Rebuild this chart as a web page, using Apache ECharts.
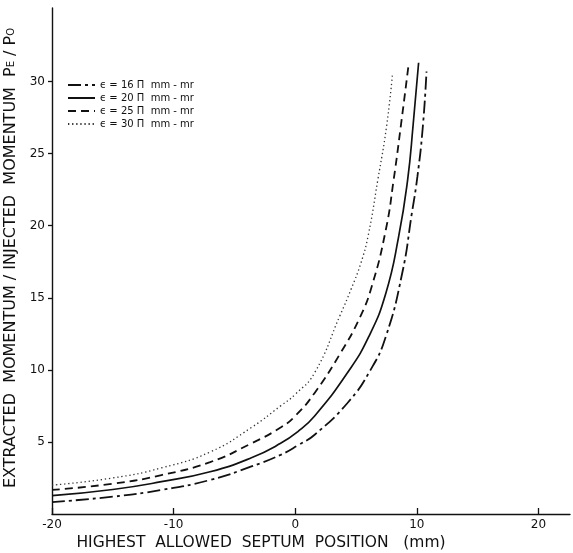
<!DOCTYPE html>
<html>
<head>
<meta charset="utf-8">
<script src="https://cdn.jsdelivr.net/npm/echarts@6/dist/echarts.min.js"></script>
<style>
html,body{margin:0;padding:0;background:#fff;}
#chart{width:573px;height:553px;}
</style>
</head>
<body>
<div id="chart"></div>
<script>
// ---- data ----
const xTicks = [-20, -10, 0, 10, 20];
const yTicks = [5, 10, 15, 20, 25, 30];
const seriesNames = [
  'ϵ = 16 Π  mm - mr',
  'ϵ = 20 Π  mm - mr',
  'ϵ = 25 Π  mm - mr',
  'ϵ = 30 Π  mm - mr'
];
const eps16 = [[-20,0.83],[-15,1.2],[-11,1.67],[-7,2.36],[-3.6,3.3],[-1.2,4.1],[0.3,4.8],[1.6,5.5],[4.3,7.7],[6.2,10.0],[7.45,12.3],[8.8,16.7],[9.6,20.9],[10.05,23.4],[10.5,26.9],[10.8,30.7]];
const eps20 = [[-20,1.27],[-15,1.7],[-11,2.24],[-7,2.93],[-3.6,3.9],[-1.2,4.9],[0.2,5.7],[1.6,6.8],[4.3,9.8],[6.05,12.3],[7.45,15.3],[8.5,19.2],[9.25,23.2],[9.7,27.0],[10.15,31.3]];
const eps25 = [[-20,1.67],[-15,2.1],[-11,2.7],[-7,3.6],[-3.6,4.9],[-1.2,6.0],[0,6.8],[1.6,8.4],[3.75,11.2],[5.3,13.6],[6.3,15.8],[7.45,19.7],[8.1,23.2],[8.7,27.0],[9.3,31.0]];
const eps30 = [[-20,2.0],[-15,2.5],[-11,3.2],[-7,4.3],[-3.6,6.0],[-1.2,7.5],[0,8.3],[1.6,9.8],[3.7,13.8],[4.6,15.6],[5.4,17.4],[6.0,19.3],[6.8,23.2],[7.5,26.8],[8.0,30.5]];

const ink = '#111';
const font = 'DejaVu Sans';

const chart = echarts.init(document.getElementById('chart'), null, {renderer: 'canvas'});

function mkSeries(name, data, lineStyle) {
  return {
    name: name,
    type: 'line',
    data: data,
    smooth: 0.5,
    symbol: 'none',
    showSymbol: false,
    silent: true,
    animation: false,
    itemStyle: {color: ink},
    lineStyle: Object.assign({color: ink}, lineStyle)
  };
}

chart.setOption({
  backgroundColor: '#fff',
  animation: false,
  grid: {left: 52, right: 3, top: 8, bottom: 39},
  legend: {
    left: 62, top: 75, orient: 'vertical',
    itemWidth: 27, itemHeight: 10, itemGap: 3,
    data: seriesNames,
    itemStyle: {opacity: 0},
    textStyle: {fontFamily: font, fontSize: 10, color: ink},
    selectedMode: false
  },
  xAxis: {
    type: 'value', min: -20, max: 22.6,
    axisLine: {onZero: false, lineStyle: {color: ink, width: 1.4}},
    axisTick: {inside: true, length: 6, lineStyle: {color: ink, width: 1.3}, customValues: xTicks},
    axisLabel: {customValues: xTicks, color: ink, fontFamily: font, fontSize: 12, margin: 5},
    splitLine: {show: false}
  },
  yAxis: {
    type: 'value', min: 0, max: 35.1,
    axisLine: {show: true, onZero: false, lineStyle: {color: ink, width: 1.4}},
    axisTick: {show: true, inside: false, length: 4, lineStyle: {color: ink, width: 1.3}, customValues: yTicks},
    axisLabel: {customValues: yTicks, color: ink, fontFamily: font, fontSize: 12, margin: 7},
    splitLine: {show: false}
  },
  graphic: [
    {
      type: 'text', x: 11, y: 258, rotation: Math.PI / 2,
      style: {
        text: '{a|EXTRACTED  MOMENTUM / INJECTED  MOMENTUM  P}{s|E}{a| / P}{s|O}',
        align: 'center', verticalAlign: 'middle',
        rich: {
          a: {fontFamily: font, fontSize: 16, fill: ink},
          s: {fontFamily: font, fontSize: 10, fill: ink}
        }
      }
    },
    {
      type: 'text', x: 261, y: 543,
      style: {
        text: 'HIGHEST  ALLOWED  SEPTUM  POSITION   (mm)',
        align: 'center', verticalAlign: 'middle',
        fontFamily: font, fontSize: 15.5, fill: ink
      }
    }
  ],
  series: [
    mkSeries(seriesNames[0], eps16, {width: 1.8, type: [13, 4, 3, 4]}),
    mkSeries(seriesNames[1], eps20, {width: 1.7, type: 'solid'}),
    mkSeries(seriesNames[2], eps25, {width: 1.8, type: [8, 5]}),
    mkSeries(seriesNames[3], eps30, {width: 1.3, type: [1.3, 2.8], color: '#333'})
  ]
});
</script>
</body>
</html>
